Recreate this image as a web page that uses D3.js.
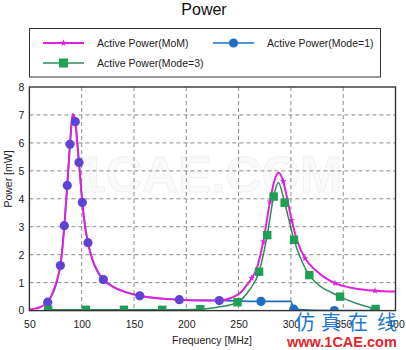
<!DOCTYPE html>
<html>
<head>
<meta charset="utf-8">
<script src="https://cdn.jsdelivr.net/npm/d3@7"></script>
<style>
  html, body { margin: 0; padding: 0; background: #fff; }
  svg { display: block; font-family: "Liberation Sans", Arial, sans-serif; }
</style>
</head>
<body>
<svg id="chart" width="406" height="350"></svg>
<script>
// Frequency sweep (MHz) and active power (mW)
const xTicks = [50, 100, 150, 200, 250, 300, 350, 400];
const yTicks = [0, 1, 2, 3, 4, 5, 6, 7, 8];

// Full-wave (MoM) reference curve
const momCurve = [
  [50, 0.04], [55, 0.07], [60, 0.12], [64, 0.2], [67.5, 0.30], [72, 0.62], [76, 1.05],
  [79.6, 1.61], [81.5, 2.2], [83.4, 3.04], [86.2, 4.48], [88.8, 5.95], [90.5, 6.78],
  [91.6, 7.03], [93.9, 6.76], [95.5, 6.1], [97.4, 5.3], [100.6, 3.87], [103, 3.05],
  [106, 2.43], [110, 1.85], [115, 1.42], [120.7, 1.11], [130, 0.85], [140, 0.69],
  [155.5, 0.53], [175, 0.43], [193.3, 0.39], [215, 0.36], [231.5, 0.36], [243, 0.45],
  [252, 0.65], [258, 0.92], [262.5, 1.16], [267.3, 1.5], [273.6, 2.47], [280, 3.9],
  [284, 4.62], [288.2, 4.93], [292.7, 4.62], [296.5, 4.0], [300.7, 3.24], [306, 2.5],
  [313.5, 1.87], [325, 1.4], [342.2, 0.98], [360, 0.8], [380.4, 0.71], [400, 0.68]
];
const momMarkers = [
  [67.5, 0.30], [79.6, 1.61], [83.4, 3.04], [86.2, 4.48], [88.8, 5.95], [93.9, 6.76],
  [97.4, 5.3], [100.6, 3.87], [106, 2.43], [120.7, 1.11], [155.5, 0.53], [193.3, 0.39],
  [231.5, 0.36], [262.5, 1.16], [273.6, 2.47], [280, 3.9], [292.7, 4.62], [300.7, 3.24],
  [313.5, 1.87], [342.2, 0.98], [380.4, 0.71]
];

// Characteristic-mode solution using mode 1
const modeOneCurve = [
  [67.5, 0.30], [79.6, 1.61], [83.4, 3.04], [86.2, 4.48], [88.8, 5.95], [91.5, 6.98],
  [93.9, 6.76], [97.4, 5.3], [100.6, 3.87], [106, 2.43], [120.7, 1.11], [155.5, 0.53],
  [193.3, 0.39], [231.5, 0.36], [271.4, 0.33], [300, 0.33], [302.8, 0.05], [341.5, 0.0],
  [380, 0.0]
];
const modeOneMarkers = [
  [67.5, 0.30], [79.6, 1.61], [83.4, 3.04], [86.2, 4.48], [88.8, 5.95], [93.9, 6.76],
  [97.4, 5.3], [100.6, 3.87], [106, 2.43], [120.7, 1.11], [155.5, 0.53], [193.3, 0.39],
  [231.5, 0.36], [271.4, 0.33], [302.8, 0.05], [341.5, 0.0], [380, 0.0]
];

// Characteristic-mode solution using mode 3
const modeThreeCurve = [
  [68, 0.03], [104, 0.03], [140.4, 0.03], [177, 0.03], [213.4, 0.05], [230, 0.12],
  [249, 0.3], [260, 0.72], [269.6, 1.39], [277.4, 2.7], [283.5, 4.08], [288, 4.58],
  [294, 3.86], [303, 2.53], [310, 1.8], [317.6, 1.27], [347, 0.5], [381, 0.06]
];
const modeThreeMarkers = [
  [68, 0.03], [104, 0.03], [140.4, 0.03], [177, 0.03], [213.4, 0.05], [249, 0.3],
  [269.6, 1.39], [277.4, 2.7], [283.5, 4.08], [294, 3.86], [303, 2.53], [317.6, 1.27],
  [347, 0.5], [381, 0.06]
];

const seriesNames = ["Active Power(MoM)", "Active Power(Mode=1)", "Active Power(Mode=3)"];

const C_MOM = "#dd22dd", C_M1 = "#1f6fc0", C_M3 = "#1f9e55", C_M3LINE = "#2e8b57";

const svg = d3.select("#chart");
const plot = { left: 29.4, right: 395.5, top: 87, bottom: 310.6 };

const x = d3.scaleLinear().domain([50, 400]).range([plot.left, plot.right]);
const y = d3.scaleLinear().domain([0, 8]).range([plot.bottom, plot.top]);

// Title
svg.append("text").attr("x", 204).attr("y", 15).attr("text-anchor", "middle")
  .attr("font-size", 16).attr("fill", "#111").text("Power");

// Faint background watermark
svg.append("text").attr("x", 210).attr("y", 192).attr("text-anchor", "middle")
  .attr("font-size", 50).attr("font-weight", "bold").attr("fill", "#fafafa")
  .attr("stroke", "#f1f1f1").attr("stroke-width", 1).text("1CAE.COM");

// Grid
const grid = svg.append("g");
grid.selectAll("line.gx").data(xTicks.slice(1, -1)).join("line")
  .attr("x1", d => x(d)).attr("x2", d => x(d)).attr("y1", plot.top).attr("y2", plot.bottom)
  .attr("stroke", "#8a8a8a").attr("stroke-dasharray", "4,3").attr("stroke-width", 1);
grid.selectAll("line.gy").data(yTicks.slice(1, -1)).join("line")
  .attr("y1", d => y(d)).attr("y2", d => y(d)).attr("x1", plot.left).attr("x2", plot.right)
  .attr("stroke", "#8a8a8a").attr("stroke-dasharray", "4,3").attr("stroke-width", 1);

// Axes (labels only, frame drawn separately)
const xAxis = svg.append("g").attr("transform", `translate(0,${plot.bottom})`)
  .call(d3.axisBottom(x).tickValues(xTicks).tickSize(0).tickPadding(10));
const yAxis = svg.append("g").attr("transform", `translate(${plot.left},0)`)
  .call(d3.axisLeft(y).tickValues(yTicks).tickSize(0).tickPadding(5));
[xAxis, yAxis].forEach(a => {
  a.select(".domain").remove();
  a.selectAll("text").attr("font-size", 10.5).attr("fill", "#222")
    .attr("font-family", "'Liberation Sans', Arial, sans-serif");
});

svg.append("text").attr("x", 212).attr("y", 344).attr("text-anchor", "middle")
  .attr("font-size", 10.5).attr("fill", "#222").text("Frequency [MHz]");
svg.append("text").attr("transform", "translate(12,179) rotate(-90)")
  .attr("text-anchor", "middle").attr("font-size", 10.5).attr("fill", "#222").text("Power [mW]");

// Series
svg.append("defs").append("clipPath").attr("id", "plotclip")
  .append("rect").attr("x", plot.left).attr("y", plot.top - 6)
  .attr("width", plot.right - plot.left).attr("height", plot.bottom - plot.top + 6);

const layer = svg.append("g").attr("clip-path", "url(#plotclip)");
const lineSmooth = d3.line().x(d => x(d[0])).y(d => y(d[1])).curve(d3.curveMonotoneX);

layer.append("path").datum(modeOneCurve).attr("d", lineSmooth)
  .attr("fill", "none").attr("stroke", C_M1).attr("stroke-width", 1.6);

layer.append("path").datum(momCurve).attr("d", lineSmooth)
  .attr("fill", "none").attr("stroke", C_MOM).attr("stroke-width", 2);

// MoM value at a frequency, used to tint mode-1 markers lying on the MoM trace
const momAt = f => {
  const i = d3.bisector(d => d[0]).left(momCurve, f);
  if (i <= 0) return momCurve[0][1];
  if (i >= momCurve.length) return momCurve[momCurve.length - 1][1];
  const a = momCurve[i - 1], b = momCurve[i];
  return a[1] + (b[1] - a[1]) * (f - a[0]) / (b[0] - a[0]);
};
const violet = d3.interpolateRgb("#2a4fd0", C_MOM)(0.3);

layer.selectAll("circle.m1").data(modeOneMarkers).join("circle")
  .attr("cx", d => x(d[0])).attr("cy", d => y(d[1])).attr("r", 4.6)
  .attr("fill", d => Math.abs(momAt(d[0]) - d[1]) < 0.3 ? violet : C_M1);

const star = d3.symbol().type(d3.symbolStar).size(15);
layer.selectAll("path.mom").data(momMarkers.filter(d => d[0] > 250)).join("path")
  .attr("transform", d => `translate(${x(d[0])},${y(d[1])})`)
  .attr("d", star).attr("fill", C_MOM);

layer.append("path").datum(modeThreeCurve).attr("d", lineSmooth)
  .attr("fill", "none").attr("stroke", C_M3LINE).attr("stroke-width", 1.5);
layer.selectAll("rect.m3").data(modeThreeMarkers).join("rect")
  .attr("x", d => x(d[0]) - 4.2).attr("y", d => y(d[1]) - 4.2)
  .attr("width", 8.4).attr("height", 8.4).attr("fill", C_M3);

// Plot frame
svg.append("rect").attr("x", plot.left).attr("y", plot.top)
  .attr("width", plot.right - plot.left).attr("height", plot.bottom - plot.top)
  .attr("fill", "none").attr("stroke", "#333").attr("stroke-width", 1.4);

// Legend
const lg = svg.append("g");
lg.append("rect").attr("x", 29.5).attr("y", 28.5).attr("width", 351).attr("height", 48.5)
  .attr("fill", "#fff").attr("stroke", "#333").attr("stroke-width", 1);
const legendItems = [
  { name: seriesNames[0], color: C_MOM, x: 43, y: 43, mark: "star" },
  { name: seriesNames[1], color: C_M1, x: 213, y: 43, mark: "circle" },
  { name: seriesNames[2], color: C_M3, x: 43, y: 63, mark: "square" }
];
legendItems.forEach(it => {
  const g = lg.append("g");
  g.append("line").attr("x1", it.x).attr("x2", it.x + 41).attr("y1", it.y).attr("y2", it.y)
    .attr("stroke", it.mark === "square" ? C_M3LINE : it.color).attr("stroke-width", it.mark === "star" ? 2 : 1.6);
  const cx = it.x + 20.5;
  if (it.mark === "circle") g.append("circle").attr("cx", cx).attr("cy", it.y).attr("r", 4.6).attr("fill", it.color);
  else if (it.mark === "square") g.append("rect").attr("x", cx - 4.5).attr("y", it.y - 4.5).attr("width", 9).attr("height", 9).attr("fill", it.color);
  else g.append("path").attr("transform", `translate(${cx},${it.y})`).attr("d", star).attr("fill", it.color);
  g.append("text").attr("x", it.x + 54).attr("y", it.y).attr("dy", "0.35em")
    .attr("font-size", 10.5).attr("fill", "#222").text(it.name);
});

// Site watermark
const wm = svg.append("g");
[["仿", 305], ["真", 331], ["在", 358], ["线", 387]].forEach(([ch, cx]) => {
  wm.append("text").attr("x", cx).attr("y", 330).attr("text-anchor", "middle")
    .attr("font-family", "'Noto Sans CJK SC', sans-serif").attr("font-size", 20)
    .attr("fill", "#1b78d0").text(ch);
});
wm.append("text").attr("x", 287).attr("y", 347).attr("font-size", 14.5).attr("font-weight", "bold")
  .attr("fill", "#e3262b").text("www.1CAE.com");
</script>
</body>
</html>
